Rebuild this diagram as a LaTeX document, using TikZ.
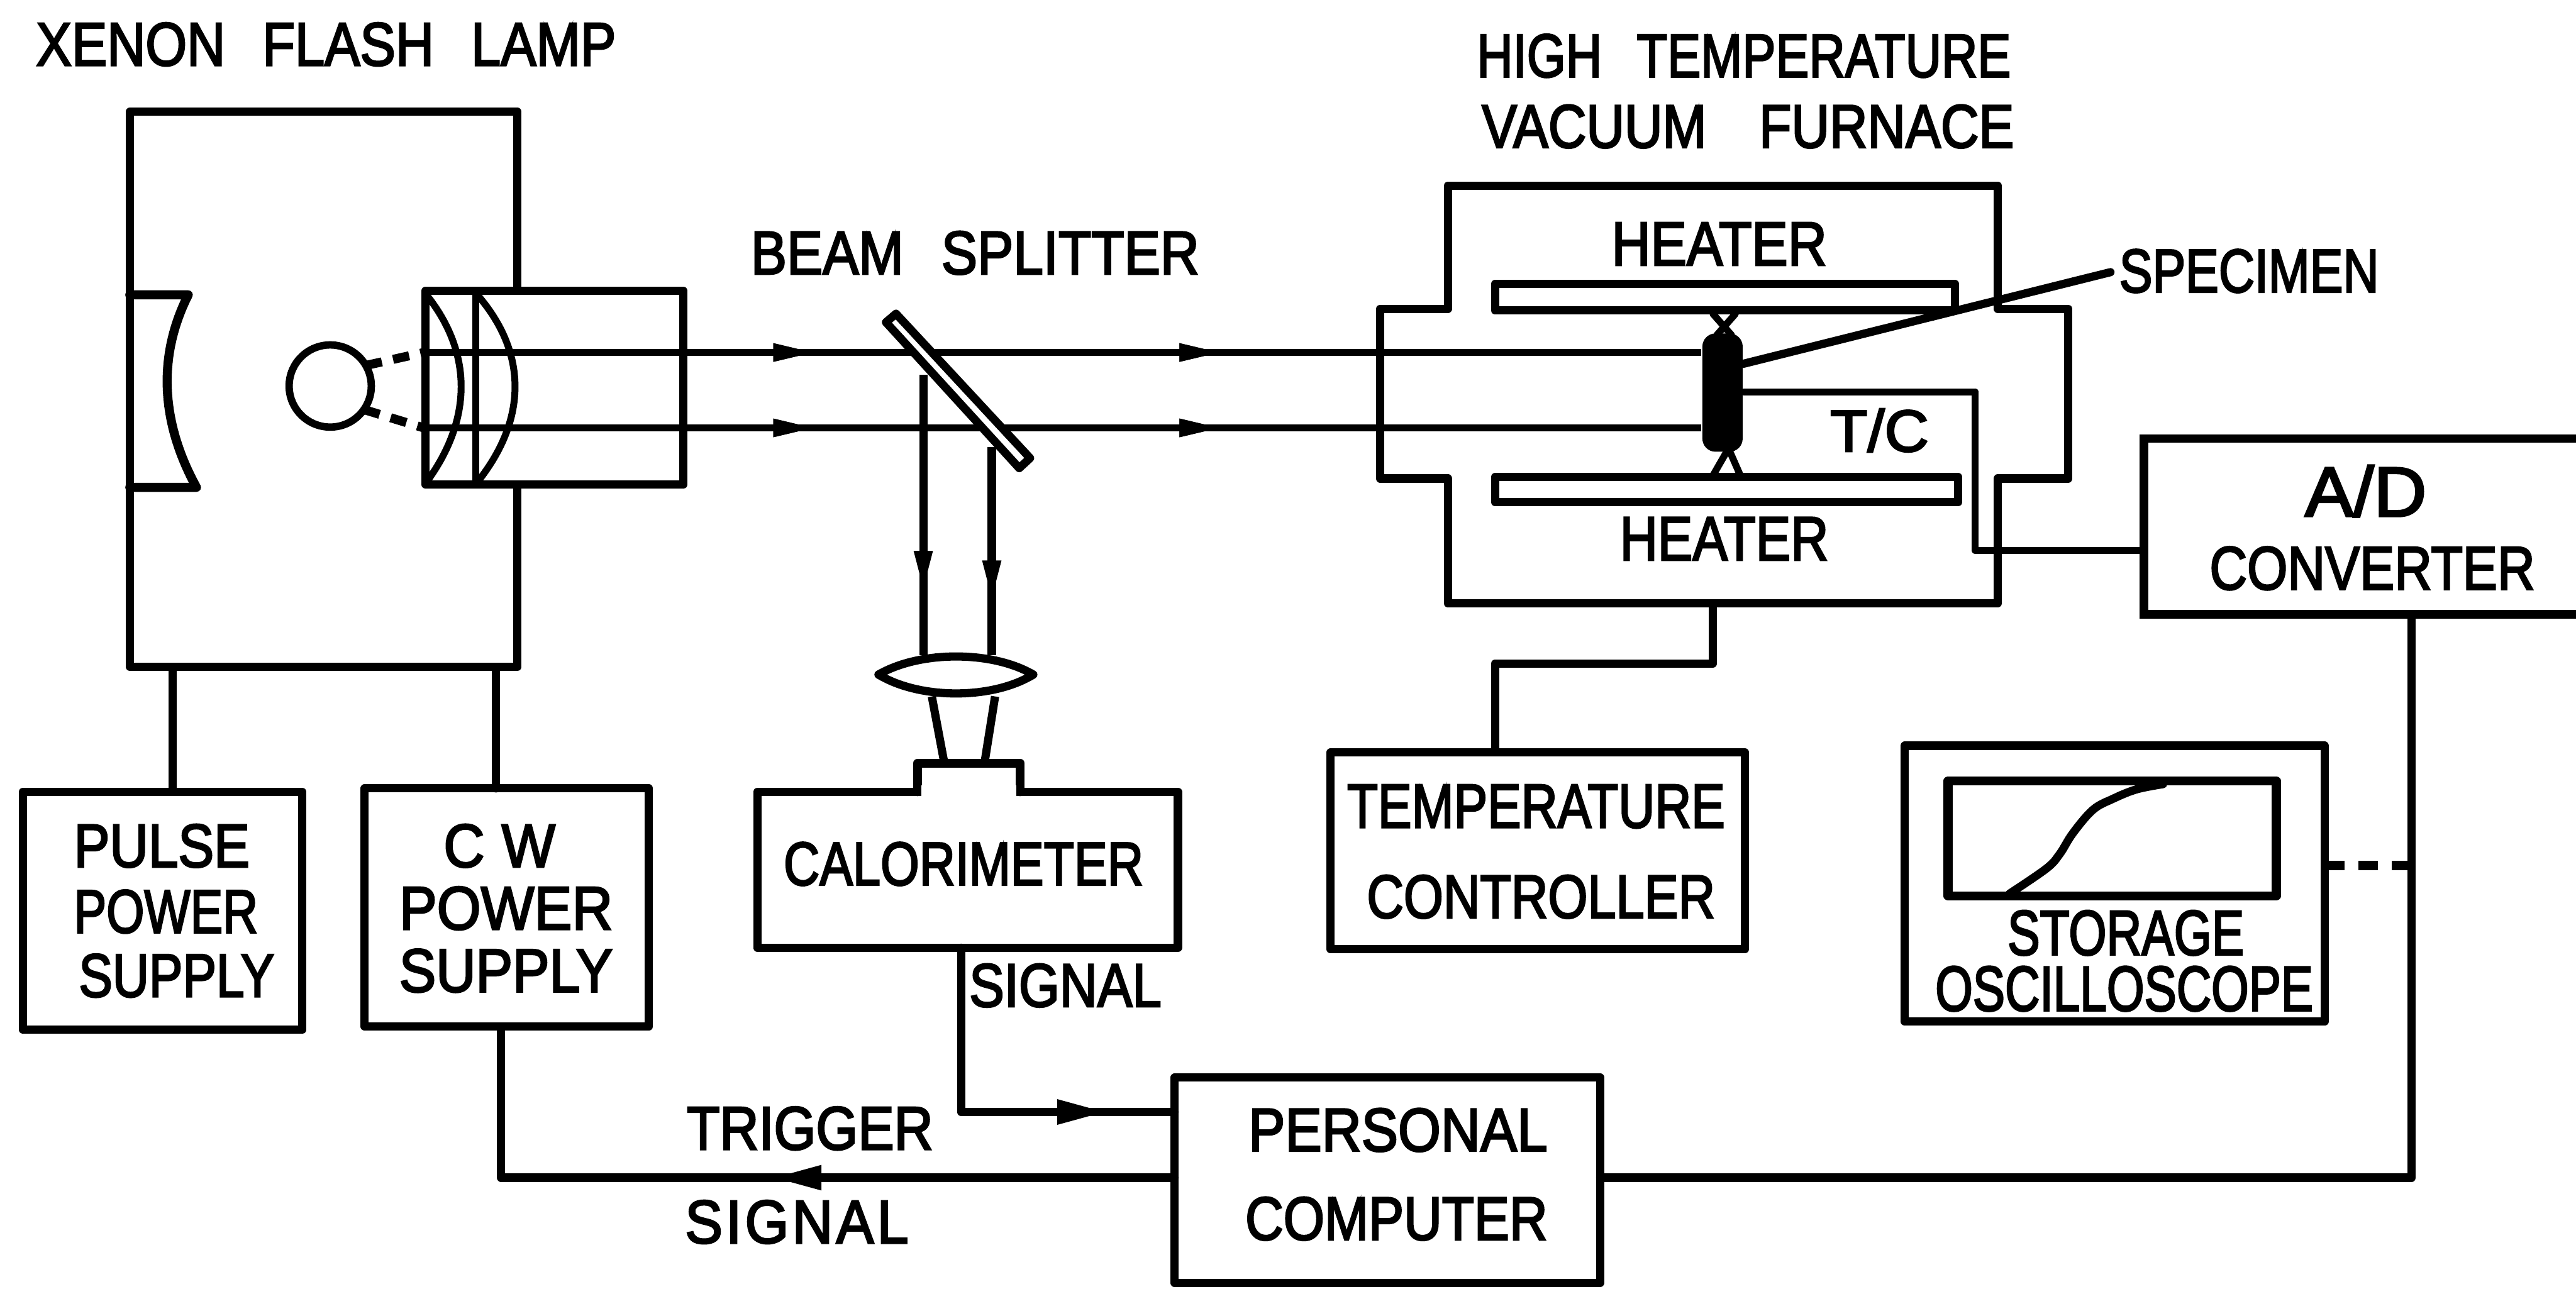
\documentclass[tikz,border=0pt]{standalone}
\usepackage{graphicx}
\usepackage{fontspec}
\setmainfont[FakeBold=3]{Liberation Sans}
\usetikzlibrary{arrows.meta,fit,decorations.markings}
\tikzset{
  x=0.01cm,y=-0.01cm,
  ln/.style={line width=0.05cm,line join=round,line cap=round},
  thin line/.style={line width=0.042cm,line join=round,line cap=round},
  heavy/.style={line width=0.055cm,line join=round,line cap=round},
  boxn/.style={draw,rectangle,inner sep=0pt,outer sep=0pt,line width=0.05cm,line join=round},
  lab/.style={inner sep=0pt,outer sep=0pt},
  dashline/.style={line width=0.055cm,dash pattern=on 0.1cm off 0.07cm},
  oscdash/.style={line width=0.055cm,dash pattern=on 0.12cm off 0.085cm},
  beam/.style={line width=0.042cm},
  refl/.style={line width=0.05cm},
  tipmark/.style={decoration={markings,mark=at position #1 with {\arrow{Triangle[length=0.26cm,width=0.1cm]}}},postaction={decorate}},
  bigtipmark/.style={decoration={markings,mark=at position #1 with {\arrow{Triangle[length=0.3cm,width=0.14cm]}}},postaction={decorate}}
}
\newcommand{\mylab}[6][26]{%
  \pgfmathsetlengthmacro{\labw}{(#4-#3)*0.01cm}%
  \pgfmathsetlengthmacro{\labh}{#1*0.01cm}%
  \node[lab] (#2) at ({(#3+#4)/2},#5) {\resizebox{\labw}{\labh}{#6}};}
\newcommand{\wg}{\hspace{0.7em}}
\begin{document}
\begin{tikzpicture}
\useasboundingbox (0,0) rectangle (1568,787.7);
% ---------- lamp
\node[boxn,fit={(79,68) (315,406)}] (lamp) {};
\node[boxn,fill=white,fit={(259,177) (416,295)}] (housing) {};
\node[draw,circle,line width=0.045cm,minimum size=0.5cm,inner sep=0pt,outer sep=0pt] (bulb) at (201,235) {};
\draw[heavy] (79,179.5) -- (114.6,179.5) .. controls (96.7,215) and (96.7,255) .. (119.6,296.7) -- (79,296.7);
\draw[thin line] (260,180) .. controls (287.6,215) and (287.6,255) .. (260,293);
\draw[thin line] (291,180) .. controls (321,215) and (321,255) .. (291,293);
\draw[thin line] (289.5,177) -- (289.5,295);
% ---------- beams
\coordinate (u0) at (258,214.6);
\coordinate (l0) at (258,260.5);
\node[fill=black,rectangle,rounded corners=0.08cm,minimum width=0.245cm,minimum height=0.72cm,inner sep=0pt] (spec) at (1048.5,239) {};
\draw[beam,tipmark=0.307,tipmark=0.625] (u0) -- (u0 -| spec.west);
\draw[beam,tipmark=0.307,tipmark=0.625] (l0) -- (l0 -| spec.west);
\draw[dashline] (bulb.30) -- (u0);
\draw[dashline] (bulb.-35) -- (l0);
% ---------- splitter
\coordinate (s1) at (545.4,191);
\coordinate (s2) at (627,278.9);
\coordinate (s3) at (620.4,285);
\coordinate (s4) at (539.3,196.2);
\draw[ln,fill=white] (s1) -- (s2) -- (s3) -- (s4) -- cycle;
\coordinate (r1) at (562,228);
\coordinate (r2) at (603.7,272);
% ---------- lens and calorimeter
\coordinate (len1) at (534.7,410.7);
\coordinate (len2) at (629,410.7);
\draw[refl,tipmark=0.78] (r1) -- (r1 |- 0,399);
\draw[refl,tipmark=0.75] (r2) -- (r2 |- 0,399);
\draw[ln,fill=white] (len1) .. controls (560,396) and (604,396) .. (len2) .. controls (604,426) and (560,426) .. (len1) -- cycle;
\draw[refl] (567.2,424) -- (574.4,462.4);
\draw[refl] (605.7,424) -- (599.6,462.4);
\node[boxn,fit={(461,482) (717,577)}] (cal) {};
\draw[heavy,fill=white] (558.5,482) -- (558.5,464.6) -- (621,464.6) -- (621,482);
\fill[white] (561,478) rectangle (618.5,484.6);
% ---------- furnace
\coordinate (fbot) at (1042.6,367.4);
\draw[ln] (881.3,113) -- (1216,113) -- (1216,188) -- (1259,188) -- (1259,291.3) -- (1216,291.3) -- (1216,367.4) -- (881.3,367.4) -- (881.3,291.3) -- (840,291.3) -- (840,188) -- (881.3,188) -- cycle;
\node[boxn,fit={(910,172.9) (1190,189)}] (heat1) {};
\node[boxn,fit={(910,290.5) (1192,305.7)}] (heat2) {};
\draw[thin line] (1042.6,191) -- (1054,204) (1056.4,191) -- (1045,204);
\draw[thin line] (1051,275) -- (1042.6,289.6) (1053,275) -- (1059.4,289.6);
\coordinate (spectip) at (1284.6,165.7);
\draw[ln] (spec.east |- 0,221.4) -- (spectip);
% ---------- instruments
\node[boxn,fit={(14,482) (184,627)}] (pulse) {};
\node[boxn,fit={(222,480) (395,625)}] (cw) {};
\node[boxn,fit={(810,458) (1062,578)}] (tc) {};
\node[boxn,fit={(1159.4,454) (1415,622)}] (osc) {};
\node[boxn,line width=0.055cm,fit={(1185.7,475.5) (1385.6,545.4)}] (screen) {};
\draw[ln] plot[smooth,tension=0.6] coordinates {(1223.3,544) (1245.6,528.8) (1253.7,520) (1261.8,507.2) (1274,493) (1286.2,486.3) (1300.4,480.6) (1316.6,477.4)};
\node[draw,rectangle,inner sep=0pt,outer sep=0pt,line width=0.05cm,fit={(1305,267) (1580,374)}] (adc) {};
\node[boxn,fit={(715,656) (974,781)}] (pc) {};
% ---------- connectors
\draw[ln] (105,0 |- lamp.south) -- (105,0 |- pulse.north);
\draw[ln] (302,0 |- lamp.south) -- (302,0 |- cw.north);
\draw[ln] (fbot) -- (1042.6,404) -- (910,404) -- (910,0 |- tc.north);
\draw[thin line] (spec.east |- 0,238.6) -- (1202.4,238.6) -- (1202.4,335) -- (adc.west |- 0,335);
\draw[ln] (1468,0 |- adc.south) -- (1468,717) -- (pc.east |- 0,717);
\draw[ln,bigtipmark=0.82] (585,0 |- cal.south) -- (585,677) -- (pc.west |- 0,677);
\draw[ln,bigtipmark=0.488] (pc.west |- 0,717) -- (305,717) -- (305,0 |- cw.south);
\coordinate (oscr) at (1468,526.9);
\draw[oscdash] (osc.east |- oscr) -- (oscr);
% ---------- text
\mylab{t1}{22}{375}{27}{XENON\wg FLASH\wg LAMP}
\mylab{t2}{899}{1224}{34}{HIGH\wg TEMPERATURE}
\mylab{t3}{902}{1226}{77}{VACUUM\hspace{1em}FURNACE}
\mylab{t4}{457}{730}{154}{BEAM\wg SPLITTER}
\mylab{t5}{1290}{1448}{165}{SPECIMEN}
\mylab{t6}{981}{1112}{148.5}{HEATER}
\mylab{t7}{986}{1113}{328}{HEATER}
\mylab{t8}{1114}{1174}{262}{T/C}
\mylab{t9}{45}{152}{515}{PULSE}
\mylab{t10}{45}{157}{555}{POWER}
\mylab{t11}{48}{167}{594}{SUPPLY}
\mylab{t12}{270}{338}{515}{C\hspace{0.3em}W}
\mylab{t13}{243}{373}{553}{POWER}
\mylab{t14}{243}{373}{591}{SUPPLY}
\mylab{t15}{477}{696}{526}{CALORIMETER}
\mylab{t16}{590}{707}{600}{SIGNAL}
\mylab{t17}{820}{1050}{491}{TEMPERATURE}
\mylab{t18}{832}{1044}{546}{CONTROLLER}
\mylab[31]{t19}{1403}{1477}{299}{A/D}
\mylab{t20}{1345}{1543}{346}{CONVERTER}
\mylab{t21}{760}{942}{688}{PERSONAL}
\mylab{t22}{758}{942}{742}{COMPUTER}
\mylab{t23}{418}{568}{687}{TRIGGER}
\mylab{t24}{417}{553}{744}{\addfontfeature{LetterSpace=6}SIGNAL}
\mylab[27]{t25}{1222}{1366}{568}{STORAGE}
\mylab[27]{t26}{1178}{1408}{602}{OSCILLOSCOPE}
\end{tikzpicture}
\end{document}
